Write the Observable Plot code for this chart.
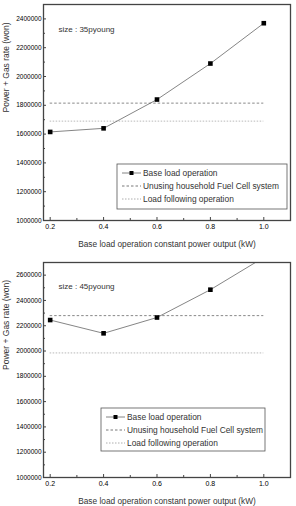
<!DOCTYPE html>
<html><head><meta charset="utf-8">
<script src="https://cdn.jsdelivr.net/npm/d3@7"></script>
<script src="https://cdn.jsdelivr.net/npm/@observablehq/plot@0.6"></script>
<style>
body{margin:0;background:#fff;font-family:"Liberation Sans",Arial,sans-serif}
#chart svg{display:block}
</style>
</head><body><div id="chart"></div><script>
// Constant power output of the base-load fuel cell (kW)
const outputs = [0.2, 0.4, 0.6, 0.8, 1.0];
// Power + gas rate (won) for base load operation, per house size
const base35 = [1615000, 1640000, 1840000, 2090000, 2370000];
const base45 = [2245000, 2140000, 2265000, 2485000, 2740000];
// Reference levels: no fuel cell, and load following operation
const unusing35 = 1815000, following35 = 1690000;
const unusing45 = 2280000, following45 = 1985000;

const xTicks = [0.2, 0.4, 0.6, 0.8, 1.0];
const xMinor = [0.3, 0.5, 0.7, 0.9];
const legendItems = ["Base load operation", "Unusing household Fuel Cell system", "Load following operation"];

function panel({size, values, unusing, following, yMax, yTicks, marginTop, marginBottom, sizeDy, legend}) {
  const rows = outputs.map((x, i) => ({x, y: values[i]}));
  const yMinor = d3.range(1100000, yMax, 200000);
  const svg = Plot.plot({
    width: 296, height: 253,
    marginLeft: 43, marginRight: 6, marginTop, marginBottom,
    style: {fontFamily: "Liberation Sans, Arial, sans-serif", background: "#fff"},
    x: {domain: [0.175, 1.1]},
    y: {domain: [1000000, yMax]},
    marks: [
      Plot.ruleY([unusing], {x1: 0.2, x2: 1.0, stroke: "#555", strokeWidth: 0.7, strokeDasharray: "2.5,2"}),
      Plot.ruleY([following], {x1: 0.2, x2: 1.0, stroke: "#999", strokeWidth: 0.7, strokeDasharray: "1.5,1.5"}),
      Plot.line(rows, {x: "x", y: "y", stroke: "#666", strokeWidth: 0.8, clip: true}),
      Plot.dot(rows, {x: "x", y: "y", symbol: "square", fill: "#000", r: 2.6, clip: true}),
      Plot.axisY({ticks: yTicks, tickFormat: d3.format("d"), tickSize: -3, tickPadding: 5, fontSize: 6.5, label: null, stroke: "#444"}),
      Plot.axisY({ticks: yMinor, text: null, tickSize: -2, label: null, stroke: "#444"}),
      Plot.axisX({ticks: xTicks, tickFormat: d3.format(".1f"), tickSize: -3, tickPadding: 7, fontSize: 7, label: null, stroke: "#444"}),
      Plot.axisX({ticks: xMinor, text: null, tickSize: -2, label: null, stroke: "#444"}),
      Plot.frame({stroke: "#444", strokeWidth: 1.3}),
      Plot.text([`size : ${size}`], {frameAnchor: "top-left", dx: 15, dy: sizeDy, fontSize: 8, fill: "#333", textAnchor: "start"}),
      Plot.text(["Base load operation constant power output (kW)"], {frameAnchor: "bottom", dy: 26, fontSize: 8.3, fill: "#333"}),
      Plot.text(["Power + Gas rate (won)"], {frameAnchor: "left", dx: -37, rotate: -90, fontSize: 8.5, fill: "#333"})
    ]
  });

  // Legend box drawn in pixel space over the plot area
  const g = d3.select(svg).append("g").attr("transform", `translate(${legend.x},${legend.y})`)
    .attr("font-size", 8.4).attr("fill", "#333").attr("text-anchor", "start");
  g.append("rect").attr("width", legend.w).attr("height", legend.h)
    .attr("fill", "#fff").attr("stroke", "#555").attr("stroke-width", 0.8);
  const styles = [
    {stroke: "#666", dash: null, marker: true},
    {stroke: "#555", dash: "2.5,2", marker: false},
    {stroke: "#999", dash: "1.5,1.5", marker: false}
  ];
  legendItems.forEach((t, i) => {
    const yy = 9 + i * 13;
    g.append("line").attr("x1", 5).attr("x2", 24).attr("y1", yy).attr("y2", yy)
      .attr("stroke", styles[i].stroke).attr("stroke-width", 0.8)
      .attr("stroke-dasharray", styles[i].dash);
    if (styles[i].marker) g.append("rect").attr("x", 12.5).attr("y", yy - 2).attr("width", 4).attr("height", 4).attr("fill", "#000");
    g.append("text").attr("x", 26).attr("y", yy + 3).attr("text-anchor", "start").text(t);
  });
  return svg;
}

const root = document.getElementById("chart");
root.append(panel({
  size: "35pyoung", values: base35, unusing: unusing35, following: following35,
  yMax: 2500000, yTicks: d3.range(1000000, 2500001, 200000),
  marginTop: 4, marginBottom: 33, sizeDy: 22,
  legend: {x: 117, y: 164, w: 170, h: 45}
}));
root.append(panel({
  size: "45pyoung", values: base45, unusing: unusing45, following: following45,
  yMax: 2700000, yTicks: d3.range(1000000, 2700001, 200000),
  marginTop: 9, marginBottom: 29, sizeDy: 21,
  legend: {x: 101, y: 155, w: 164, h: 43}
}));
</script></body></html>
